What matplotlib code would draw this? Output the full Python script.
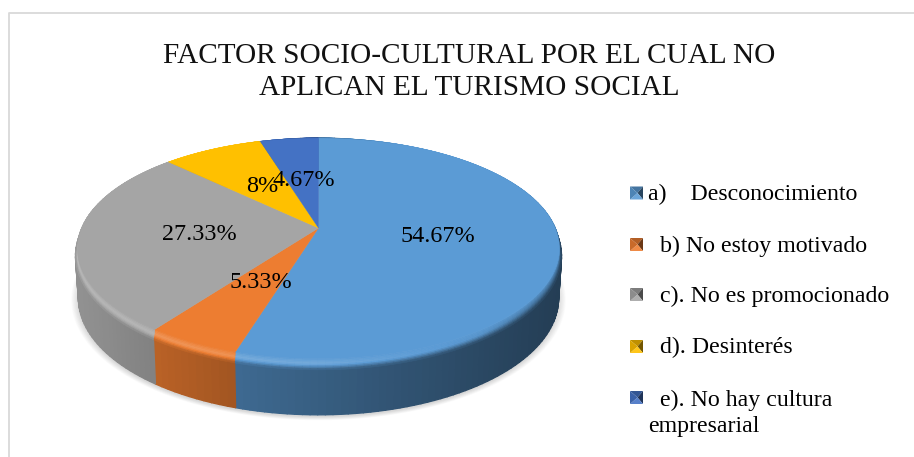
import matplotlib
matplotlib.use('Agg')
import matplotlib.pyplot as plt
from matplotlib.collections import PolyCollection
import numpy as np

plt.rcParams['font.family'] = ['Liberation Serif', 'DejaVu Serif']

# slices run clockwise from twelve o'clock
values = [54.67, 5.33, 27.33, 8.0, 4.67]
value_labels = ['54.67%', '5.33%', '27.33%', '8%', '4.67%']
legend_labels = ['a)    Desconocimiento', '  b) No estoy motivado', '  c). No es promocionado',
                 '  d). Desinterés', '  e). No hay cultura\nempresarial']
colors = ['#5b9bd5', '#ed7d31', '#a5a5a5', '#ffc000', '#4472c4']
title_lines = 'FACTOR SOCIO-CULTURAL POR EL CUAL NO\nAPLICAN EL TURISMO SOCIAL'

# pie placement, in pixels
cx, cy = 318.5, 228
rad_x, rad_y = 236.9, 106.6
persp = 0.185
bevel = 11
label_pos = [(437.5, 237), (261, 283), (199.5, 234), (262, 186), (304, 181)]
legend_y = [193, 244.5, 294.5, 346.5, 397.5]
legend_text_y = [194, 246.5, 296.5, 347.5, 413.5]


def rim(theta):
    # theta is clockwise from the top; the far edge of the disc is foreshortened
    s, c = np.sin(theta), np.cos(theta)
    d = 1 + persp * c
    return cx + rad_x * s / d, cy - rad_y * c / d


def bevel_ring(theta):
    x, y = rim(theta)
    return cx + (x - cx) * 1.008, y + bevel * ((1 - np.cos(theta)) / 2) ** 0.7


def wall_ring(theta):
    x, y = rim(theta)
    return cx + (x - cx) * 0.996, y + 48 - 8 * np.cos(theta)


def shade(col, f):
    rgb = np.array(matplotlib.colors.to_rgb(col))
    if f <= 1:
        return tuple(rgb * f)
    return tuple(rgb + (1 - rgb) * (f - 1))


def side_factor(x):
    return np.interp(x, [80, 240, 558], [0.88, 0.68, 0.40])


def bevel_factor(x, u):
    # u goes from 0 at the face to 1 at the side wall
    edge = side_factor(x) + 0.06
    peak = np.interp(x, [80, 318, 480, 558], [1.22, 1.15, 0.95, 0.7])
    if u < 0.55:
        return 1 + (peak - 1) * u / 0.55
    return peak + (edge - peak) * (u - 0.55) / 0.45


fig = plt.figure(figsize=(9.14, 4.57), dpi=100)
ax = fig.add_axes([0, 0, 1, 1])
ax.set_xlim(0, 914)
ax.set_ylim(457, 0)
ax.axis('off')

# frame, only the top and left sides show
ax.plot([9, 9, 914], [457, 12.5, 12.5], color='#d9d9d9', lw=1.3)

# soft shadow under the disc
t_all = np.linspace(0, 2 * np.pi, 200)
xr, yr = wall_ring(t_all)
for grow in np.linspace(1.0, 1.03, 10):
    sx = cx + (xr - cx) * grow
    sy = 300 + (yr + 2 - 300) * grow
    ax.fill(sx, sy, color='#000000', alpha=0.016, lw=0, zorder=1)

edges = np.radians(np.cumsum([0] + values) * 3.6)

# side wall and rounded edge, one thin strip at a time
side_polys, side_cols, bev_polys, bev_cols = [], [], [], []
for k, col in enumerate(colors):
    th = np.linspace(edges[k], edges[k + 1], max(int(np.degrees(edges[k + 1] - edges[k]) / 1.5), 2))
    x0, y0 = rim(th)
    x1, y1 = bevel_ring(th)
    x2, y2 = wall_ring(th)
    for i in range(len(th) - 1):
        side_polys.append([(x1[i], y1[i]), (x1[i + 1], y1[i + 1]), (x2[i + 1], y2[i + 1]), (x2[i], y2[i])])
        side_cols.append(shade(col, side_factor(x1[i])))
    bands = np.linspace(0, 1, 9)
    for j in range(len(bands) - 1):
        ua, ub = bands[j], bands[j + 1]
        xa, ya = x0 + (x1 - x0) * ua, y0 + (y1 - y0) * ua
        xb, yb = x0 + (x1 - x0) * ub, y0 + (y1 - y0) * ub
        for i in range(len(th) - 1):
            bev_polys.append([(xa[i], ya[i]), (xa[i + 1], ya[i + 1]), (xb[i + 1], yb[i + 1]), (xb[i], yb[i])])
            bev_cols.append(shade(col, bevel_factor(x0[i], ub)))

ax.add_collection(PolyCollection(side_polys, facecolors=side_cols, edgecolors=side_cols, lw=1, zorder=2))
ax.add_collection(PolyCollection(bev_polys, facecolors=bev_cols, edgecolors=bev_cols, lw=0.5, zorder=3))

# top face of each slice
for k, col in enumerate(colors):
    th = np.linspace(edges[k], edges[k + 1], 120)
    x, y = rim(th)
    ax.fill(np.r_[cx, x], np.r_[cy, y], color=col, lw=0.3, zorder=4)

for lab, (lx, ly) in zip(value_labels, label_pos):
    ax.text(lx, ly, lab, fontsize=17.4, ha='center', va='center', color='black', zorder=6)

ax.text(469, 72, title_lines, fontsize=21.1, ha='center', va='center', color='#111111',
        linespacing=1.34, zorder=6)

# legend: small bevelled squares and their text
mx0, mx1 = 630, 643
for lab, col, ly, ty in zip(legend_labels, colors, legend_y, legend_text_y):
    y0, y1 = ly - 6.5, ly + 6.5
    mxc, myc = (mx0 + mx1) / 2 + 1, (y0 + y1) / 2
    tris = [[(mx0, y0), (mx1, y0), (mxc, myc)], [(mx1, y0), (mx1, y1), (mxc, myc)],
            [(mx1, y1), (mx0, y1), (mxc, myc)], [(mx0, y1), (mx0, y0), (mxc, myc)]]
    fs = [0.75, 0.45, 1.1, 0.85]
    for tri, f in zip(tris, fs):
        ax.fill(*zip(*tri), color=shade(col, f), lw=0, zorder=6)
    ax.text(648, ty, lab, fontsize=17.2, ha='left', va='center', color='black',
            linespacing=1.35, zorder=6)

fig.savefig('out.png', dpi=100)
